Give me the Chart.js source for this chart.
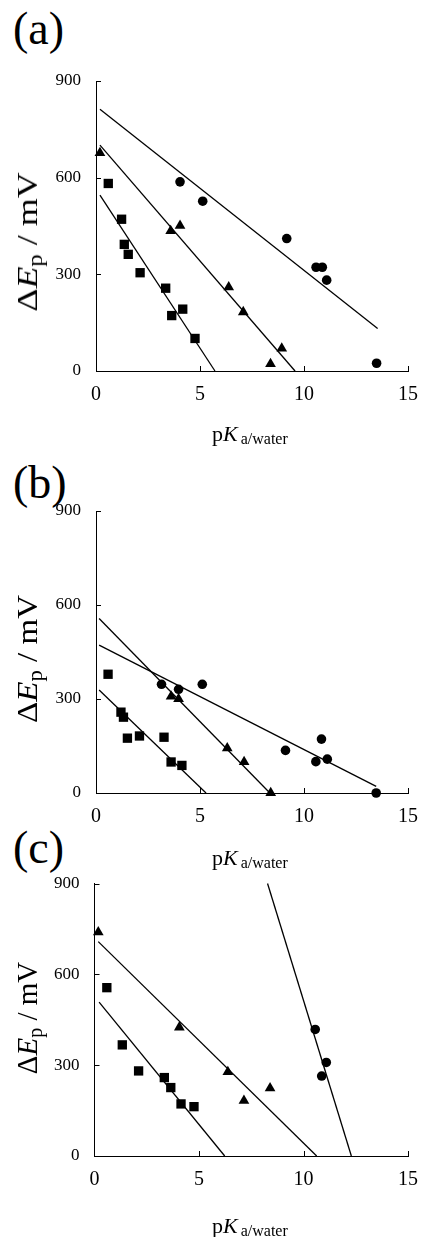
<!DOCTYPE html>
<html>
<head>
<meta charset="utf-8">
<script src="https://cdn.jsdelivr.net/npm/chart.js@4.4.1/dist/chart.umd.min.js"></script>
<style>
  body { margin: 0; background: #fff; width: 430px; height: 1237px; position: relative; overflow: hidden;
         font-family: 'Liberation Serif', 'Times New Roman', serif; color: #000; }
  .panel { position: absolute; left: 0; width: 430px; }
  .tag { position: absolute; left: 13px; font-size: 46px; line-height: 1; }
  .xt { position: absolute; left: 212px; font-size: 22px; line-height: 1; white-space: nowrap; }
  .xt sub { font-size: 16px; vertical-align: -3px; margin-left: 3px; }
  .yt { position: absolute; left: 29px; font-size: 29px; line-height: 1; white-space: nowrap; }
  .yt sub { font-size: 20px; vertical-align: -5px; }
</style>
</head>
<body>

<div class="tag" style="top:6px">(a)</div>
<div class="tag" style="top:460px">(b)</div>
<div class="tag" style="top:825px">(c)</div>

<div class="panel" style="top:0; height:410px"><canvas id="chartA"></canvas></div>
<div class="panel" style="top:420px; height:420px"><canvas id="chartB"></canvas></div>
<div class="panel" style="top:840px; height:397px"><canvas id="chartC"></canvas></div>

<div class="xt" style="top:423px">p<i>K</i><sub>a/water</sub></div>
<div class="xt" style="top:847px">p<i>K</i><sub>a/water</sub></div>
<div class="xt" style="top:1215px">p<i>K</i><sub>a/water</sub></div>

<div class="yt" style="top:242px; transform: translate(-50%,-50%) rotate(-90deg) scaleX(1.24)">Δ<i>E</i><sub>p</sub> / mV</div>
<div class="yt" style="top:659px; transform: translate(-50%,-50%) rotate(-90deg) scaleX(1.14)">Δ<i>E</i><sub>p</sub> / mV</div>
<div class="yt" style="top:1018px; transform: translate(-50%,-50%) rotate(-90deg)">Δ<i>E</i><sub>p</sub> / mV</div>

<script>
// axis ticks (same for all three panels)
const xTicks = [0, 5, 10, 15];
const yTicks = [0, 300, 600, 900];

// (a) data
const aSquareX = [0.59, 1.23, 1.36, 1.55, 2.12, 3.35, 3.64, 4.17, 4.76];
const aSquareY = [582, 471, 393, 362, 305, 257, 172, 192, 101];
const aTriX = [0.19, 3.59, 4.04, 6.38, 7.08, 8.93, 8.39];
const aTriY = [677, 435, 451, 260, 183, 70, 22];
const aCircX = [4.04, 5.13, 9.17, 10.58, 10.88, 11.09, 13.49];
const aCircY = [587, 527, 411, 322, 322, 282, 24];
// fitted lines, start and end
const aFitSquareX = [0.19, 5.72], aFitSquareY = [546, 0];
const aFitTriX = [0.19, 9.57], aFitTriY = [701, 0];
const aFitCircX = [0.19, 13.54], aFitCircY = [812, 132];

// (b)
const bSquareX = [0.58, 1.2, 1.32, 1.51, 2.09, 3.27, 3.61, 4.13];
const bSquareY = [379, 258, 242, 175, 182, 178, 99, 88];
const bTriX = [3.61, 3.97, 6.31, 7.12, 8.4];
const bTriY = [308, 300, 143, 99, 0];
const bCircX = [3.15, 3.97, 5.11, 9.11, 10.84, 10.57, 11.12, 13.47];
const bCircY = [347, 331, 347, 136, 172, 100, 108, 0];
const bFitSquareX = [0.15, 5.29], bFitSquareY = [329, 0];
const bFitTriX = [0.15, 8.36], bFitTriY = [557, 0];
const bFitCircX = [0.15, 13.47], bFitCircY = [472, 21];

// (c)
const cSquareX = [0.59, 1.33, 2.11, 3.34, 3.65, 4.14, 4.76];
const cSquareY = [556, 367, 281, 259, 226, 172, 163];
const cTriX = [0.18, 4.06, 6.38, 7.15, 8.4];
const cTriY = [739, 425, 278, 183, 224];
const cCircX = [10.56, 11.09, 10.87];
const cCircY = [418, 309, 264];
const cFitSquareX = [0.22, 6.23], cFitSquareY = [508, 0];
const cFitTriX = [0.18, 10.63], cFitTriY = [708, 0];
const cFitCircX = [8.28, 12.29], cFitCircY = [900, 0];

const serif = "'Liberation Serif', 'Times New Roman', serif";

function pts(xs, ys) {
    return xs.map((x, i) => ({ x: x, y: ys[i] }));
}

function markers(xs, ys, style, r) {
    return {
        data: pts(xs, ys),
        pointStyle: style,
        pointRadius: r,
        pointHoverRadius: r,
        backgroundColor: '#000',
        borderWidth: 0,
        showLine: false,
        clip: false
    };
}

function fitLine(xs, ys) {
    return {
        data: pts(xs, ys),
        showLine: true,
        borderColor: '#000',
        borderWidth: 1.3,
        pointRadius: 0,
        fill: false,
        clip: false
    };
}

// small tick marks pointing into the plot, like the original
const inwardTicks = {
    id: 'inwardTicks',
    afterDraw(chart) {
        const { ctx, chartArea, scales } = chart;
        ctx.save();
        ctx.strokeStyle = '#000';
        ctx.lineWidth = 1;
        ctx.beginPath();
        scales.y.ticks.forEach(t => {
            if (t.value === 0) return;
            const py = Math.round(scales.y.getPixelForValue(t.value)) + 0.5;
            ctx.moveTo(chartArea.left, py);
            ctx.lineTo(chartArea.left + 5, py);
        });
        scales.x.ticks.forEach(t => {
            if (t.value === 0) return;
            const px = Math.round(scales.x.getPixelForValue(t.value)) + 0.5;
            ctx.moveTo(px, chartArea.bottom);
            ctx.lineTo(px, chartArea.bottom - 5);
        });
        ctx.stroke();
        ctx.restore();
    }
};

function makeChart(id, box, datasets) {
    return new Chart(document.getElementById(id), {
        type: 'scatter',
        data: { datasets: datasets },
        options: {
            responsive: true,
            maintainAspectRatio: false,
            animation: false,
            layout: { padding: { top: box.top, right: box.right, bottom: 0, left: 0 } },
            plugins: { legend: { display: false }, tooltip: { enabled: false } },
            scales: {
                x: {
                    type: 'linear',
                    min: xTicks[0],
                    max: xTicks[xTicks.length - 1],
                    afterBuildTicks: axis => { axis.ticks = xTicks.map(v => ({ value: v })); },
                    afterFit: axis => { axis.height = box.xh; },
                    grid: { display: false, drawTicks: false },
                    border: { display: true, color: '#000', width: 1 },
                    ticks: { color: '#000', padding: 12, font: { family: serif, size: 20 } }
                },
                y: {
                    type: 'linear',
                    min: yTicks[0],
                    max: yTicks[yTicks.length - 1],
                    afterBuildTicks: axis => { axis.ticks = yTicks.map(v => ({ value: v })); },
                    afterFit: axis => { axis.width = box.left; },
                    grid: { display: false, drawTicks: false },
                    border: { display: true, color: '#000', width: 1 },
                    ticks: { color: '#000', padding: 15, font: { family: serif, size: 17 } }
                }
            }
        },
        plugins: [inwardTicks]
    });
}

makeChart('chartA', { top: 81, right: 22, left: 96, xh: 39 }, [
    fitLine(aFitSquareX, aFitSquareY),
    fitLine(aFitTriX, aFitTriY),
    fitLine(aFitCircX, aFitCircY),
    markers(aSquareX, aSquareY, 'rect', 6.6),
    markers(aTriX, aTriY, 'triangle', 6.2),
    markers(aCircX, aCircY, 'circle', 4.8)
]);

makeChart('chartB', { top: 91, right: 14, left: 96, xh: 47 }, [
    fitLine(bFitSquareX, bFitSquareY),
    fitLine(bFitTriX, bFitTriY),
    fitLine(bFitCircX, bFitCircY),
    markers(bSquareX, bSquareY, 'rect', 6.6),
    markers(bTriX, bTriY, 'triangle', 6.2),
    markers(bCircX, bCircY, 'circle', 4.8)
]);

makeChart('chartC', { top: 43.5, right: 12, left: 94.5, xh: 81 }, [
    fitLine(cFitSquareX, cFitSquareY),
    fitLine(cFitTriX, cFitTriY),
    fitLine(cFitCircX, cFitCircY),
    markers(cSquareX, cSquareY, 'rect', 6.6),
    markers(cTriX, cTriY, 'triangle', 6.2),
    markers(cCircX, cCircY, 'circle', 4.8)
]);
</script>
</body>
</html>
